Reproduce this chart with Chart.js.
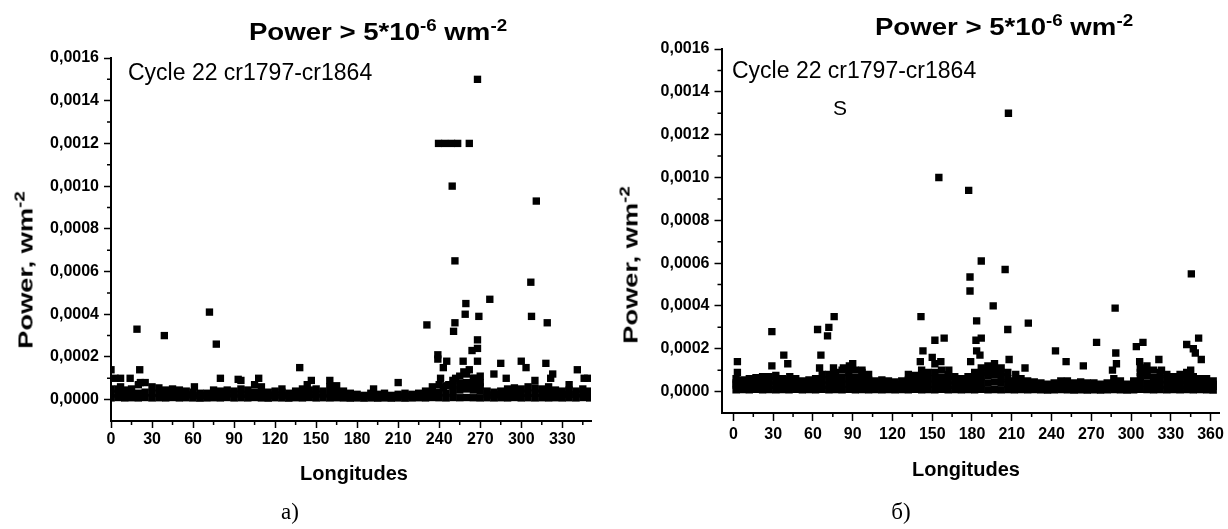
<!DOCTYPE html>
<html>
<head>
<meta charset="utf-8">
<script src="https://cdn.jsdelivr.net/npm/chart.js@4.4.1/dist/chart.umd.min.js"></script>
<style>
  body { margin: 0; background: #fff; }
  #page { position: relative; width: 1228px; height: 529px; overflow: hidden; background: #fff; }
  .box { position: absolute; top: 0; width: 614px; height: 529px; }
  .txt { position: absolute; white-space: nowrap; line-height: 1; color: #000; font-family: "Liberation Sans", Arial, sans-serif; }
  .title { font-size: 24px; font-weight: bold; transform: translateX(-50%) scaleX(1.15); }
  .sup { font-size: 0.68em; position: relative; top: -0.55em; }
  .note { font-size: 23px; }
  .xlab { font-size: 20px; font-weight: bold; transform: translateX(-50%); }
  .ylab { font-size: 21px; font-weight: bold; transform: translate(-50%, -50%) rotate(-90deg) scaleX(1.3); }
  .cap { font-family: "Liberation Serif", "DejaVu Serif", serif; font-size: 23px; transform: translateX(-50%); }
</style>
</head>
<body>
<div id="page">
  <div class="box" style="left:0"><canvas id="chartA" width="614" height="529"></canvas></div>
  <div class="box" style="left:614px"><canvas id="chartB" width="614" height="529"></canvas></div>

  <div class="txt title" style="left:378px; top:20px">Power &gt; 5*10<span class="sup">-6</span> wm<span class="sup">-2</span></div>
  <div class="txt note" style="left:128px; top:61px">Cycle 22 cr1797-cr1864</div>
  <div class="txt xlab" style="left:354px; top:463px">Longitudes</div>
  <div class="txt ylab" style="left:25px; top:270px">Power, wm<span class="sup">-2</span></div>
  <div class="txt cap" style="left:290px; top:500px">a)</div>

  <div class="txt title" style="left:1004px; top:15px">Power &gt; 5*10<span class="sup">-6</span> wm<span class="sup">-2</span></div>
  <div class="txt note" style="left:732px; top:59px">Cycle 22 cr1797-cr1864</div>
  <div class="txt note" style="left:833px; top:97px; font-size:21px">S</div>
  <div class="txt xlab" style="left:966px; top:459px">Longitudes</div>
  <div class="txt ylab" style="left:630px; top:265px">Power, wm<span class="sup">-2</span></div>
  <div class="txt cap" style="left:901px; top:500px">б)</div>
</div>

<script>
// all power values below are in units of 1e-5 W m^-2
const UNIT = 1e-5;

// ---- panel a) ----
const xTicksA = [0, 30, 60, 90, 120, 150, 180, 210, 240, 270, 300, 330];
const xMinorA = [15, 45, 75, 105, 135, 165, 195, 225, 255, 285, 315, 345];

const bandLonA = [0, 5, 10, 15, 20, 25, 30, 35, 40, 45, 50, 55, 60, 65, 70, 75, 80, 85, 90, 95,
  100, 105, 110, 115, 120, 125, 130, 135, 140, 145, 150, 155, 160, 165, 170, 175, 180, 185, 190, 195,
  200, 205, 210, 215, 220, 225, 230, 235, 240, 245, 250, 255, 260, 265, 270, 275, 280, 285, 290, 295,
  300, 305, 310, 315, 320, 325, 330, 335, 340, 345, 350];
const bandLowA = [0.8, 1, 0.8, 0.9, 0.8, 1, 0.8, 0.9, 0.8, 1, 0.8, 0.9, 0.8, 0.7, 0.8, 0.9, 0.8, 1, 0.8, 0.9,
  0.8, 1, 0.8, 0.7, 0.9, 0.8, 0.7, 0.9, 0.8, 1, 0.8, 0.9, 0.8, 0.9, 0.8, 0.7, 0.8, 0.7, 0.8, 0.7,
  0.8, 0.7, 0.8, 0.7, 0.8, 0.9, 0.8, 1, 0.9, 0.8, 1, 0.9, 1, 0.9, 0.8, 0.9, 0.8, 0.9, 0.8, 1,
  0.8, 0.9, 0.8, 0.9, 0.8, 0.9, 0.8, 0.9, 0.8, 1, 0.8];
const bandMidA = [2.5, 3, 2.5, 3, 3, 3.5, 3, 3, 2.5, 3, 2.5, 2.5, 2, 2, 2, 2.5, 2.5, 3, 2.5, 3,
  2.5, 3.5, 3, 2, 2.5, 2, 2, 2.5, 3, 2.5, 3, 2.5, 3, 3.5, 2.5, 2, 1.5, 1.5, 2, 1.5,
  2, 1.5, 1.5, 2, 1.5, 2, 2.5, 3, 3.5, 3, 4, 4.5, 5, 4.5, 4, 2.5, 2, 2.5, 3, 3,
  3, 3, 3, 3, 3, 2.5, 2.5, 2.5, 2.5, 3, 2.5];
const bandTopA = [5, 5, 4.5, 5, 7, 8, 6, 5.5, 4.5, 5, 4.5, 4, 3.5, 3, 3, 4.5, 4, 4.5, 4, 5,
  4.5, 7, 6, 3.5, 4, 3.5, 3, 4, 5, 4.5, 5, 4, 6, 6.5, 4, 3, 2.5, 2, 3, 2.5,
  3, 2, 2.5, 3, 2.5, 3, 4, 6, 7, 6.5, 9, 11, 12, 10, 8, 4, 3.5, 4, 5, 5.5,
  5, 6, 5.5, 5, 6, 4.5, 4, 4.5, 4, 5, 4];

const peakLonA = [0, 3, 7, 7, 14, 19, 21, 21.5, 39, 61, 72, 77, 80, 93, 95, 108, 125, 138, 143.5, 146.5,
  160, 163.5, 192, 210, 231, 239, 239, 241, 243, 245.5, 250.5, 251.5, 251.5, 257.5, 259, 259.5, 264, 268, 268, 268,
  269, 270, 277, 280, 285, 289, 300, 303.5, 307, 307.5, 310, 318, 319, 321.5, 323, 335, 341, 346, 348.5,
  268, 239.5, 244, 249, 253.5, 262, 249.5, 311,
  250, 255, 260, 265, 252, 258, 262, 266, 247, 243, 270];
const peakPowA = [14, 10, 10, 6, 10, 33, 14, 8, 30, 6, 41, 26, 10, 9.5, 9, 10, 5, 15, 7, 9,
  9, 6, 5, 8, 35, 21, 19, 10, 15, 18, 32, 36, 65, 18, 40, 45, 23, 24, 28, 18,
  39, 11, 47, 12, 17, 10, 18, 15, 55, 39, 9, 17, 36, 10, 12, 7, 14, 10, 10,
  150, 120, 120, 120, 120, 120, 100, 93,
  6.5, 7.5, 8, 7, 10, 13, 14, 10, 7, 5.5, 6];

// ---- panel б) ----
const xTicksB = [0, 30, 60, 90, 120, 150, 180, 210, 240, 270, 300, 330, 360];
const xMinorB = [15, 45, 75, 105, 135, 165, 195, 225, 255, 285, 315, 345];

const bandLonB = [2, 7, 12, 17, 22, 27, 32, 37, 42, 47, 52, 57, 62, 67, 72, 77, 82, 87, 92, 97,
  102, 107, 112, 117, 122, 127, 132, 137, 142, 147, 152, 157, 162, 167, 172, 177, 182, 187, 192, 197,
  202, 207, 212, 217, 222, 227, 232, 237, 242, 247, 252, 257, 262, 267, 272, 277, 282, 287, 292, 297,
  302, 307, 312, 317, 322, 327, 332, 337, 342, 347, 352, 357, 362];
const bandLowB = [0.8, 0.9, 0.8, 1, 0.8, 0.9, 0.8, 0.9, 0.8, 1, 0.8, 0.9, 0.8, 1, 0.8, 0.9, 0.8, 1, 0.8, 0.9,
  0.8, 0.9, 0.8, 0.9, 0.8, 0.9, 0.8, 1, 0.8, 0.9, 0.8, 1, 0.8, 0.9, 0.8, 0.9, 0.8, 1, 0.8, 0.9,
  0.8, 0.9, 0.8, 0.9, 0.8, 0.9, 0.8, 0.7, 0.8, 0.9, 0.8, 0.7, 0.8, 0.7, 0.8, 0.7, 0.8, 0.9, 0.8, 0.7,
  0.8, 1, 0.9, 0.8, 0.9, 0.8, 0.9, 0.8, 0.9, 0.8, 0.9, 0.8, 0.7];
const bandMidB = [3, 2.5, 3, 3, 3, 3, 3, 3, 2.5, 3, 2.5, 2.5, 3, 3, 3, 3.5, 3.5, 3.5, 3.5, 3.5,
  3, 2.5, 2.5, 2.5, 2, 2.5, 3, 3, 3, 3.5, 3.5, 3.5, 3, 3, 3, 3, 3.5, 4, 4, 4.5,
  4, 3.5, 2.5, 3, 2.5, 2, 2, 2, 2, 2.5, 2.5, 2, 2, 2, 2, 2, 2, 3, 2.5, 2,
  2.5, 4, 4, 3.5, 3.5, 3, 3, 3, 3.5, 3, 3, 3, 2.5];
const bandUpB = [4, 4, 4, 4.5, 5, 5, 5, 4, 4, 4, 3.5, 4, 4, 5.5, 5.5, 6, 6.5, 6, 6.5, 6,
  5.5, 3.5, 4, 3.5, 3, 3.5, 5.5, 5, 5.5, 6, 6, 6.5, 5.5, 5, 4, 5, 6, 7, 7.5, 8,
  7, 6, 3.5, 4, 3.5, 3, 3, 2.5, 3, 3.5, 3.5, 3, 3, 3, 3, 2.5, 3, 4, 3.5, 2.5,
  3.5, 7, 7.5, 6.5, 6, 5.5, 5, 5.5, 6, 5, 4, 4, 3.5];
const bandTopB = [6, 5.5, 6, 6.5, 7, 7, 7.5, 6, 5.5, 6, 5, 5.5, 6, 8, 8, 9, 10, 9, 10, 9,
  8, 5, 5.5, 5, 4.5, 5, 8, 7.5, 8, 9, 9, 10, 8, 7, 6, 7, 9, 11, 12, 13,
  11, 9, 5, 6, 5, 4.5, 4, 3.5, 4, 5, 5, 4, 4.5, 4, 4, 3.5, 4, 6, 5, 3.5,
  5, 11, 12, 10, 9, 8, 7, 8, 9, 7, 6, 6, 5];

const peakLonB = [3, 3, 29, 29, 38, 41, 42.5, 63.5, 66, 65, 72, 71, 76, 75.5, 83, 87.5, 90, 97,
  141.5, 143, 141, 142, 152, 150, 152, 156.5, 159, 162.5, 178.5, 178.5, 179, 183.5, 183.5, 183, 187, 186, 187,
  196, 205, 207, 208, 213, 220, 222.5, 243, 251, 264, 274, 288, 288.5, 289, 286, 304, 309, 306.5,
  321, 323, 342, 345.5, 347, 348.5, 351, 353, 345,
  207.5, 155, 177.5,
  187, 192, 197, 202, 307, 312];
const peakPowB = [14, 9, 28, 12, 17, 13, 7, 29, 17, 11, 30, 26, 35, 11, 11, 12, 13, 10,
  35, 19, 14, 10, 24, 16, 13, 14, 25, 10, 53.5, 47, 14, 33, 19, 24, 25, 17, 61,
  40, 57, 29, 15, 8, 11, 32, 19, 14, 12, 23, 39, 18, 13, 10, 21, 23, 14,
  15, 10, 22, 55, 20, 18, 25, 15, 10,
  130, 100, 94,
  9, 10, 10.5, 9, 9, 9.5];

// shared y axis
const yTicks = [0, 0.0002, 0.0004, 0.0006, 0.0008, 0.0010, 0.0012, 0.0014, 0.0016];
const yMinor = [0.0001, 0.0003, 0.0005, 0.0007, 0.0009, 0.0011, 0.0013, 0.0015];

function points(lons, pows) {
  return lons.map((lon, i) => ({ x: lon, y: pows[i] * UNIT }));
}

function minorTicks(xs, ys) {
  return {
    id: 'minorTicks',
    afterDraw(chart) {
      const ctx = chart.ctx;
      const sx = chart.scales.x, sy = chart.scales.y;
      ctx.save();
      ctx.strokeStyle = '#000';
      ctx.lineWidth = 1.5;
      ctx.beginPath();
      xs.forEach(v => {
        const px = sx.getPixelForValue(v);
        ctx.moveTo(px, sx.top);
        ctx.lineTo(px, sx.top + 4);
      });
      ys.forEach(v => {
        const py = sy.getPixelForValue(v);
        ctx.moveTo(sy.right, py);
        ctx.lineTo(sy.right - 4, py);
      });
      ctx.stroke();
      ctx.restore();
    }
  };
}

const tickFont = { family: '"Liberation Sans", Arial, sans-serif', size: 16, weight: 'bold' };

function makeChart(id, o) {
  const ds = (data) => ({
    data: data,
    pointStyle: 'rect',
    pointRadius: 5.2,
    pointHoverRadius: 5.2,
    backgroundColor: '#000',
    borderWidth: 0
  });
  return new Chart(document.getElementById(id), {
    type: 'scatter',
    data: {
      datasets: [
        ds(points(o.bandLon, o.bandLow)),
        ds(points(o.bandLon, o.bandMid)),
        ...(o.bandUp ? [ds(points(o.bandLon, o.bandUp))] : []),
        ds(points(o.bandLon, o.bandTop)),
        ds(points(o.peakLon, o.peakPow))
      ]
    },
    options: {
      responsive: false,
      animation: false,
      events: [],
      layout: {
        padding: { top: o.top, right: o.right, left: 0, bottom: 0 }
      },
      plugins: {
        legend: { display: false },
        tooltip: { enabled: false }
      },
      scales: {
        x: {
          type: 'linear',
          min: o.xMin,
          max: o.xMax,
          afterBuildTicks: (s) => { s.ticks = o.xTicks.map(v => ({ value: v })); },
          afterFit: (s) => { s.height = o.xHeight; },
          border: { display: true, color: '#000', width: 2 },
          grid: { drawOnChartArea: false, drawTicks: true, tickLength: o.xTickLen, tickColor: '#000', tickWidth: 1.5 },
          ticks: { color: '#000', font: tickFont, padding: o.xPad, maxRotation: 0, autoSkip: false }
        },
        y: {
          type: 'linear',
          min: -0.0001,
          max: 0.0016,
          afterBuildTicks: (s) => { s.ticks = yTicks.map(v => ({ value: v })); },
          afterFit: (s) => { s.width = o.yWidth; },
          border: { display: true, color: '#000', width: 2 },
          grid: { drawOnChartArea: false, drawTicks: true, tickLength: 7, tickColor: '#000', tickWidth: 1.5 },
          ticks: {
            color: '#000',
            font: tickFont,
            padding: 5,
            callback: (v) => v.toFixed(4).replace('.', ',')
          }
        }
      }
    },
    plugins: [minorTicks(o.xMinor, yMinor)]
  });
}

makeChart('chartA', {
  bandLon: bandLonA, bandLow: bandLowA, bandMid: bandMidA, bandTop: bandTopA,
  peakLon: peakLonA, peakPow: peakPowA,
  xTicks: xTicksA, xMinor: xMinorA,
  xMin: 0, xMax: 351,
  top: 58, right: 23, yWidth: 111, xHeight: 108,
  xTickLen: 7, xPad: 2
});

makeChart('chartB', {
  bandLon: bandLonB, bandLow: bandLowB, bandMid: bandMidB, bandUp: bandUpB, bandTop: bandTopB,
  peakLon: peakLonB, peakPow: peakPowB,
  xTicks: xTicksB, xMinor: xMinorB,
  xMin: -9, xMax: 367,
  top: 49, right: 5, yWidth: 107.5, xHeight: 116,
  xTickLen: 8, xPad: 4
});
</script>
</body>
</html>
